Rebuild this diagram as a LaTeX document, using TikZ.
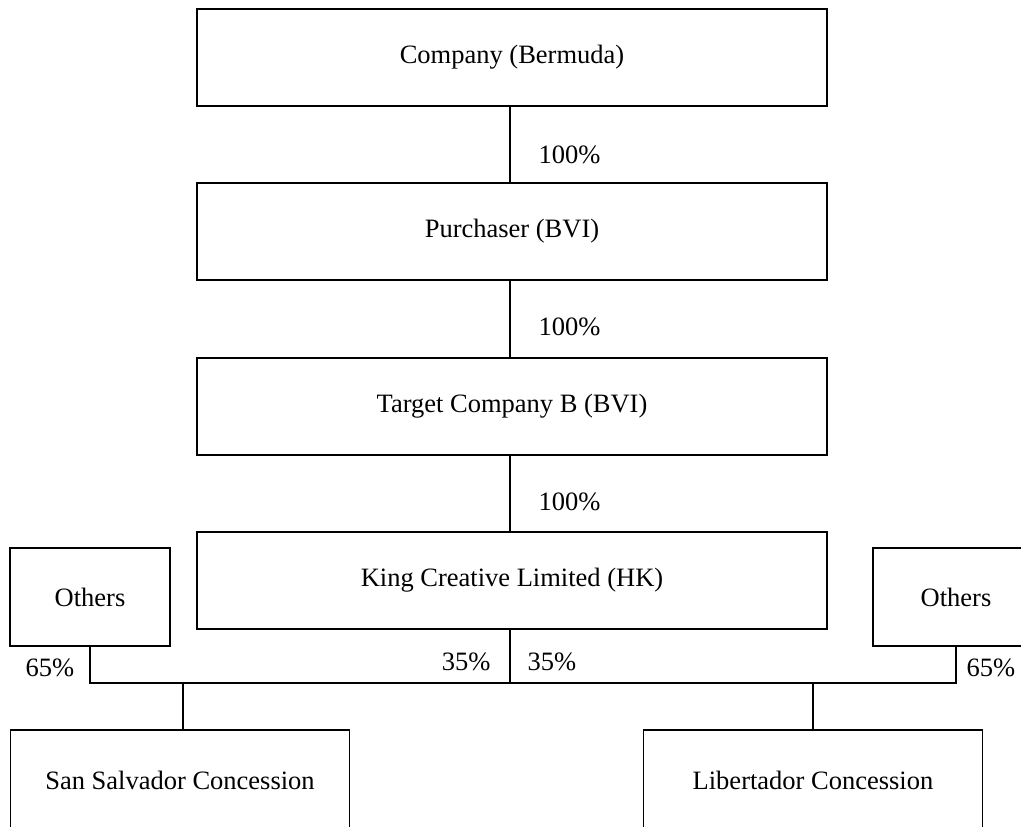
\documentclass[tikz,border=0pt]{standalone}
\usepackage{fontspec}
\setmainfont{Liberation Serif}
\begin{document}
\begin{tikzpicture}[x=1pt,y=-1pt,
  line width=1.2pt,
  every node/.style={font=\fontsize{26.5}{30}\selectfont},
  entity/.style={draw, line width=1.2pt, rectangle, inner sep=0pt},
  wide/.style={entity, minimum width=630pt, minimum height=97pt},
  small/.style={entity, minimum width=160pt, minimum height=98pt},
  lower/.style={entity, minimum width=339pt, minimum height=100pt},
  pct/.style={anchor=west, inner sep=0pt}]
  \path[use as bounding box, clip] (0,0) rectangle (1021,827);

  % main holding chain
  \node[wide] (company)   at (512,57.5)  {Company (Bermuda)};
  \node[wide] (purchaser) at (512,231.5) {Purchaser (BVI)};
  \node[wide] (target)    at (512,406.5) {Target Company B (BVI)};
  \node[wide] (king)      at (512,580.5) {King Creative Limited (HK)};

  \draw ([xshift=-2pt]company.south)   -- ([xshift=-2pt]purchaser.north);
  \draw ([xshift=-2pt]purchaser.south) -- ([xshift=-2pt]target.north);
  \draw ([xshift=-2pt]target.south)    -- ([xshift=-2pt]king.north);

  \node[pct] (p1) at (538,155) {100\%};
  \node[pct] (p2) at (538,327) {100\%};
  \node[pct] (p3) at (538,502) {100\%};

  % minority holders
  \node[small] (othersL) at (90,597) {Others};
  \node[small, minimum width=166pt] (othersR) at (956,597) {Others};

  % joint bus line
  \coordinate (busL) at (othersL.south |- 0,683);
  \coordinate (busR) at (othersR.south |- 0,683);
  \coordinate (busK) at ([xshift=-2pt]king.south |- 0,683);
  \draw (othersL.south) -- (busL) -- (busR) -- (othersR.south);
  \draw ([xshift=-2pt]king.south) -- (busK);

  \node[pct] (q1) at (25,668)  {65\%};
  \node[pct, anchor=east] (q2) at (491,662) {35\%};
  \node[pct] (q3) at (527,662) {35\%};
  \node[pct] (q4) at (966,668) {65\%};

  % concessions
  \node[lower] (sansal) at (180,780) {San Salvador Concession};
  \node[lower] (liber)  at (813,780) {Libertador Concession};

  \coordinate (dropS) at ([xshift=3pt]sansal.north |- 0,683);
  \coordinate (dropL) at (liber.north |- 0,683);
  \draw (dropS) -- ([xshift=3pt]sansal.north);
  \draw (dropL) -- (liber.north);
\end{tikzpicture}
\end{document}
